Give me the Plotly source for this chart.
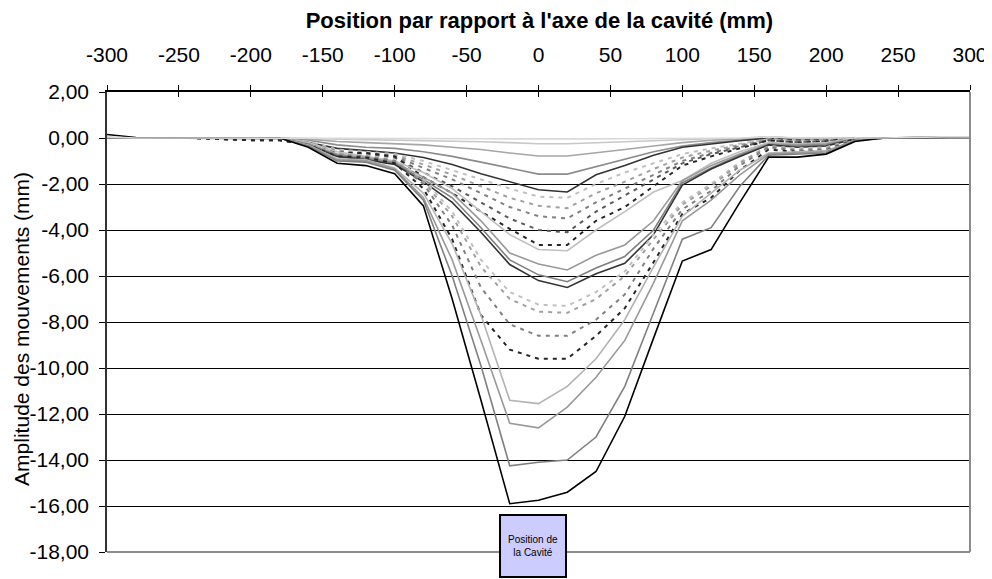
import plotly.graph_objects as go


##############################################################
# Data
##############################################################

positions = [-300, -280, -240, -200, -180,
             -160, -140, -120, -100, -80, -60, -40, -20, 0, 20, 40, 60, 80,
             100, 120, 140, 160, 180, 200, 220,
             240, 280, 300]

x_ticks = [-300, -250, -200, -150, -100, -50, 0, 50, 100, 150, 200, 250, 300]
x_ticklabels = ["-300", "-250", "-200", "-150", "-100", "-50", "0",
                "50", "100", "150", "200", "250", "300"]

y_ticks = [2, 0, -2, -4, -6, -8, -10, -12, -14, -16, -18]
y_ticklabels = ["2,00", "0,00", "-2,00", "-4,00", "-6,00", "-8,00", "-10,00",
                "-12,00", "-14,00", "-16,00", "-18,00"]

# shallow solid curves
l01 = [0.05, 0, 0, 0, 0,
       0, -0.01, -0.01, -0.02, -0.02, -0.03, -0.03, -0.04, -0.05, -0.05, -0.04, -0.03, -0.02,
       -0.02, -0.01, 0, 0.05, 0, 0, 0,
       0, 0.05, 0.05]
l02 = [0, 0, 0, 0, 0,
       -0.02, -0.05, -0.07, -0.08, -0.1, -0.13, -0.16, -0.2, -0.25, -0.25, -0.2, -0.15, -0.1,
       -0.06, -0.03, -0.01, 0.05, 0, 0, 0,
       0, 0.05, 0.05]
l03 = [0, 0, 0, 0, 0,
       -0.05, -0.15, -0.2, -0.25, -0.3, -0.4, -0.5, -0.65, -0.78, -0.78, -0.65, -0.5, -0.35,
       -0.2, -0.1, -0.05, 0.05, -0.02, -0.02, 0,
       0, 0.03, 0.03]
l04 = [0, 0, 0, 0, 0,
       -0.1, -0.3, -0.4, -0.45, -0.6, -0.8, -1.05, -1.3, -1.57, -1.57, -1.25, -0.95, -0.6,
       -0.35, -0.2, -0.1, 0.0, -0.05, -0.05, 0,
       0, 0.03, 0.03]
l05 = [0, 0, 0, 0, -0.02,
       -0.2, -0.45, -0.55, -0.65, -0.85, -1.15, -1.55, -1.9, -2.25, -2.35, -1.6, -1.2, -0.75,
       -0.4, -0.25, -0.12, 0.0, -0.1, -0.08, 0,
       0, 0.02, 0.02]

# first dashed group
d06 = [0, 0, 0, -0.05, -0.05,
       -0.15, -0.5, -0.6, -0.7, -1.0, -1.4, -1.8, -2.2, -2.55, -2.6, -2.0, -1.5, -1.1,
       -0.7, -0.45, -0.25, -0.05, -0.1, -0.1, 0,
       0, 0, 0]
d07 = [0, 0, 0, -0.05, -0.05,
       -0.2, -0.55, -0.65, -0.75, -1.15, -1.6, -2.1, -2.6, -2.95, -3.05, -2.4, -1.9, -1.35,
       -0.85, -0.55, -0.3, -0.05, -0.15, -0.1, 0,
       0, 0, 0]
d08 = [0, 0, 0, -0.08, -0.08,
       -0.2, -0.6, -0.7, -0.8, -1.3, -1.8, -2.4, -3.0, -3.4, -3.5, -2.8, -2.2, -1.6,
       -1.0, -0.65, -0.35, -0.1, -0.15, -0.12, 0,
       0, 0, 0]
d09 = [0, 0, 0, -0.08, -0.08,
       -0.25, -0.6, -0.7, -0.85, -1.5, -2.1, -2.8, -3.5, -4.0, -4.1, -3.2, -2.5, -1.8,
       -1.1, -0.7, -0.4, -0.1, -0.2, -0.15, 0,
       0, 0, 0]
d10 = [0, 0, 0, -0.1, -0.1,
       -0.25, -0.65, -0.65, -0.8, -1.7, -2.4, -3.2, -3.95, -4.65, -4.65, -3.6, -3.0, -2.1,
       -1.2, -0.8, -0.45, -0.1, -0.2, -0.15, 0,
       0, 0, 0]

# middle solid curves
l11 = [0, 0, 0, 0, 0,
       -0.2, -0.6, -0.8, -1.0, -1.5, -2.2, -3.2, -4.2, -4.85, -4.9, -4.0, -3.2, -2.35,
       -1.85, -1.1, -0.6, -0.2, -0.25, -0.2, 0,
       0, 0, 0]
l12 = [0, 0, 0, 0, 0,
       -0.25, -0.7, -0.85, -1.05, -1.7, -2.4, -3.6, -5.0, -5.48, -5.74, -5.1, -4.65, -3.6,
       -1.85, -1.2, -0.7, -0.25, -0.3, -0.25, -0.05,
       0, 0, 0]
l13 = [0, 0, 0, 0, 0,
       -0.3, -0.75, -0.9, -1.1, -1.8, -2.6, -3.9, -5.3, -5.95, -6.25, -5.65, -5.15, -4.0,
       -1.95, -1.3, -0.75, -0.3, -0.35, -0.3, -0.05,
       0, 0, 0]
l14 = [0, 0, 0, 0, 0,
       -0.3, -0.8, -0.95, -1.15, -1.9, -2.8, -4.1, -5.5, -6.2, -6.5, -5.9, -5.45, -4.2,
       -2.05, -1.35, -0.8, -0.3, -0.4, -0.35, -0.05,
       0, 0, 0]

# second dashed group
d15 = [0, 0, 0, -0.05, -0.05,
       -0.3, -0.7, -0.75, -0.95, -1.8, -3.2, -5.3, -6.7, -7.25, -7.3, -6.7, -5.8, -4.2,
       -2.8, -2.0, -1.05, -0.35, -0.45, -0.4, -0.05,
       0, 0, 0]
d16 = [0, 0, 0, -0.05, -0.05,
       -0.3, -0.7, -0.8, -1.0, -1.9, -3.4, -5.6, -7.0, -7.55, -7.6, -7.0, -6.0, -4.4,
       -2.9, -2.1, -1.1, -0.35, -0.5, -0.45, -0.05,
       0, 0, 0]
d17 = [0, 0, 0, -0.08, -0.08,
       -0.3, -0.75, -0.8, -1.0, -2.0, -3.8, -6.5, -8.1, -8.6, -8.6, -7.9, -6.8, -4.8,
       -3.1, -2.3, -1.2, -0.4, -0.55, -0.5, -0.05,
       0, 0, 0]
d18 = [0, 0, 0, -0.1, -0.1,
       -0.3, -0.8, -0.85, -1.1, -2.2, -4.4, -7.7, -9.2, -9.6, -9.6, -8.6, -7.4, -5.4,
       -3.3, -2.6, -1.4, -0.5, -0.6, -0.55, -0.08,
       0, 0, 0]

# deep solid curves
l19 = [0, 0, 0, 0, 0,
       -0.3, -0.9, -0.95, -1.3, -2.4, -4.6, -7.7, -11.4, -11.55, -10.8, -9.6, -7.9, -5.6,
       -3.4, -2.4, -1.4, -0.65, -0.6, -0.55, -0.1,
       0, 0, 0]
l20 = [0, 0, 0, 0, 0,
       -0.35, -0.95, -1.0, -1.35, -2.6, -5.3, -8.8, -12.4, -12.6, -11.7, -10.4, -8.8, -6.3,
       -3.6, -2.7, -1.6, -0.7, -0.65, -0.6, -0.1,
       0, 0, 0]
l21 = [0, 0, 0, 0, 0,
       -0.35, -1.0, -1.05, -1.4, -2.7, -6.0, -9.9, -14.25, -14.1, -14.0, -13.0, -10.8, -7.6,
       -4.4, -3.9, -2.1, -0.75, -0.7, -0.65, -0.12,
       0, 0, 0]
l22 = [0.15, 0.02, 0, 0, 0,
       -0.4, -1.1, -1.2, -1.55, -2.95, -7.0, -11.4, -15.9, -15.75, -15.4, -14.5, -12.1, -8.7,
       -5.35, -4.85, -2.8, -0.83, -0.83, -0.7, -0.15,
       0, 0.05, 0.05]


##############################################################
# Styles
##############################################################

series = [
    (l01, "#d9d9d9", "solid"),
    (l02, "#c8c8c8", "solid"),
    (l03, "#a6a6a6", "solid"),
    (l04, "#8c8c8c", "solid"),
    (l05, "#333333", "solid"),
    (d06, "#c0c0c0", "dash"),
    (d07, "#a0a0a0", "dash"),
    (d08, "#808080", "dash"),
    (d09, "#595959", "dash"),
    (d10, "#262626", "dash"),
    (l11, "#bfbfbf", "solid"),
    (l12, "#999999", "solid"),
    (l13, "#7f7f7f", "solid"),
    (l14, "#333333", "solid"),
    (d15, "#c0c0c0", "dash"),
    (d16, "#a0a0a0", "dash"),
    (d17, "#808080", "dash"),
    (d18, "#262626", "dash"),
    (l19, "#b3b3b3", "solid"),
    (l20, "#999999", "solid"),
    (l21, "#808080", "solid"),
    (l22, "#000000", "solid"),
]

FONT = "Arial, Liberation Sans, sans-serif"

fig = go.Figure()

for i, (values, color, style) in enumerate(series):

    fig.add_trace(
        go.Scatter(
            x=positions,
            y=values,
            mode="lines",
            xaxis="x2" if i == 0 else "x",
            line=dict(
                color=color,
                width=2 if style == "dash" else 1.6,
                dash="4px,5px" if style == "dash" else "solid"
            ),
            hoverinfo="skip",
            showlegend=False
        )
    )


##############################################################
# Layout
# (the page body adds an 8px offset, so the figure is 984x571)
##############################################################

fig.update_layout(

    width=984,
    height=571,
    margin=dict(l=99, r=22, t=84, b=27, autoexpand=False),
    paper_bgcolor="white",
    plot_bgcolor="white",
    separators=",.",
    showlegend=False,
    font=dict(family=FONT, color="black"),

    title=dict(
        text="<b>Position par rapport à l'axe de la cavité (mm)</b>",
        x=0.54,
        xanchor="center",
        y=0.978,
        yanchor="middle",
        font=dict(size=22, family=FONT, color="black")
    ),

    xaxis=dict(
        side="top",
        range=[-300, 300],
        automargin=False,
        tickvals=x_ticks,
        ticktext=x_ticklabels,
        ticks="outside",
        ticklen=5,
        tickcolor="black",
        ticklabelstandoff=15,
        tickfont=dict(size=21, family=FONT, color="black"),
        showline=True,
        linecolor="black",
        linewidth=1.5,
        showgrid=False,
        zeroline=False
    ),

    xaxis2=dict(
        side="top",
        overlaying="x",
        anchor="y",
        automargin=False,
        range=[-300, 300],
        tickvals=x_ticks,
        ticks="inside",
        ticklen=5,
        tickcolor="black",
        showticklabels=False,
        showline=False,
        showgrid=False,
        zeroline=False
    ),

    yaxis=dict(
        range=[-18, 2],
        automargin=False,
        tickvals=y_ticks,
        ticktext=y_ticklabels,
        ticks="outside",
        ticklen=6,
        tickcolor="black",
        ticklabelstandoff=6,
        tickfont=dict(size=21, family=FONT, color="black"),
        showline=True,
        linecolor="#333333",
        linewidth=1.5,
        showgrid=True,
        gridcolor="black",
        gridwidth=1,
        zeroline=False
    ),

    shapes=[
        dict(type="line", xref="paper", yref="paper",
             x0=0, x1=1, y0=0, y1=0,
             line=dict(color="#8c8c8c", width=2)),
        dict(type="line", xref="paper", yref="paper",
             x0=1, x1=1, y0=0, y1=1,
             line=dict(color="#8c8c8c", width=2)),
    ],

    annotations=[
        dict(
            text="Amplitude des mouvements (mm)",
            xref="paper", yref="paper",
            x=-0.0985,
            y=0.485,
            xanchor="center", yanchor="middle",
            textangle=-90,
            showarrow=False,
            font=dict(size=21, family=FONT, color="black")
        ),
        dict(
            text="Position de<br>la Cavité",
            xref="x", yref="y",
            x=-3.5, y=-17.72,
            xanchor="center", yanchor="middle",
            showarrow=False,
            width=60, height=56,
            valign="middle",
            bgcolor="#ccccff",
            bordercolor="black",
            borderwidth=2,
            borderpad=2,
            font=dict(size=10, family=FONT, color="black")
        ),
    ]
)

fig.write_html("out.html")
